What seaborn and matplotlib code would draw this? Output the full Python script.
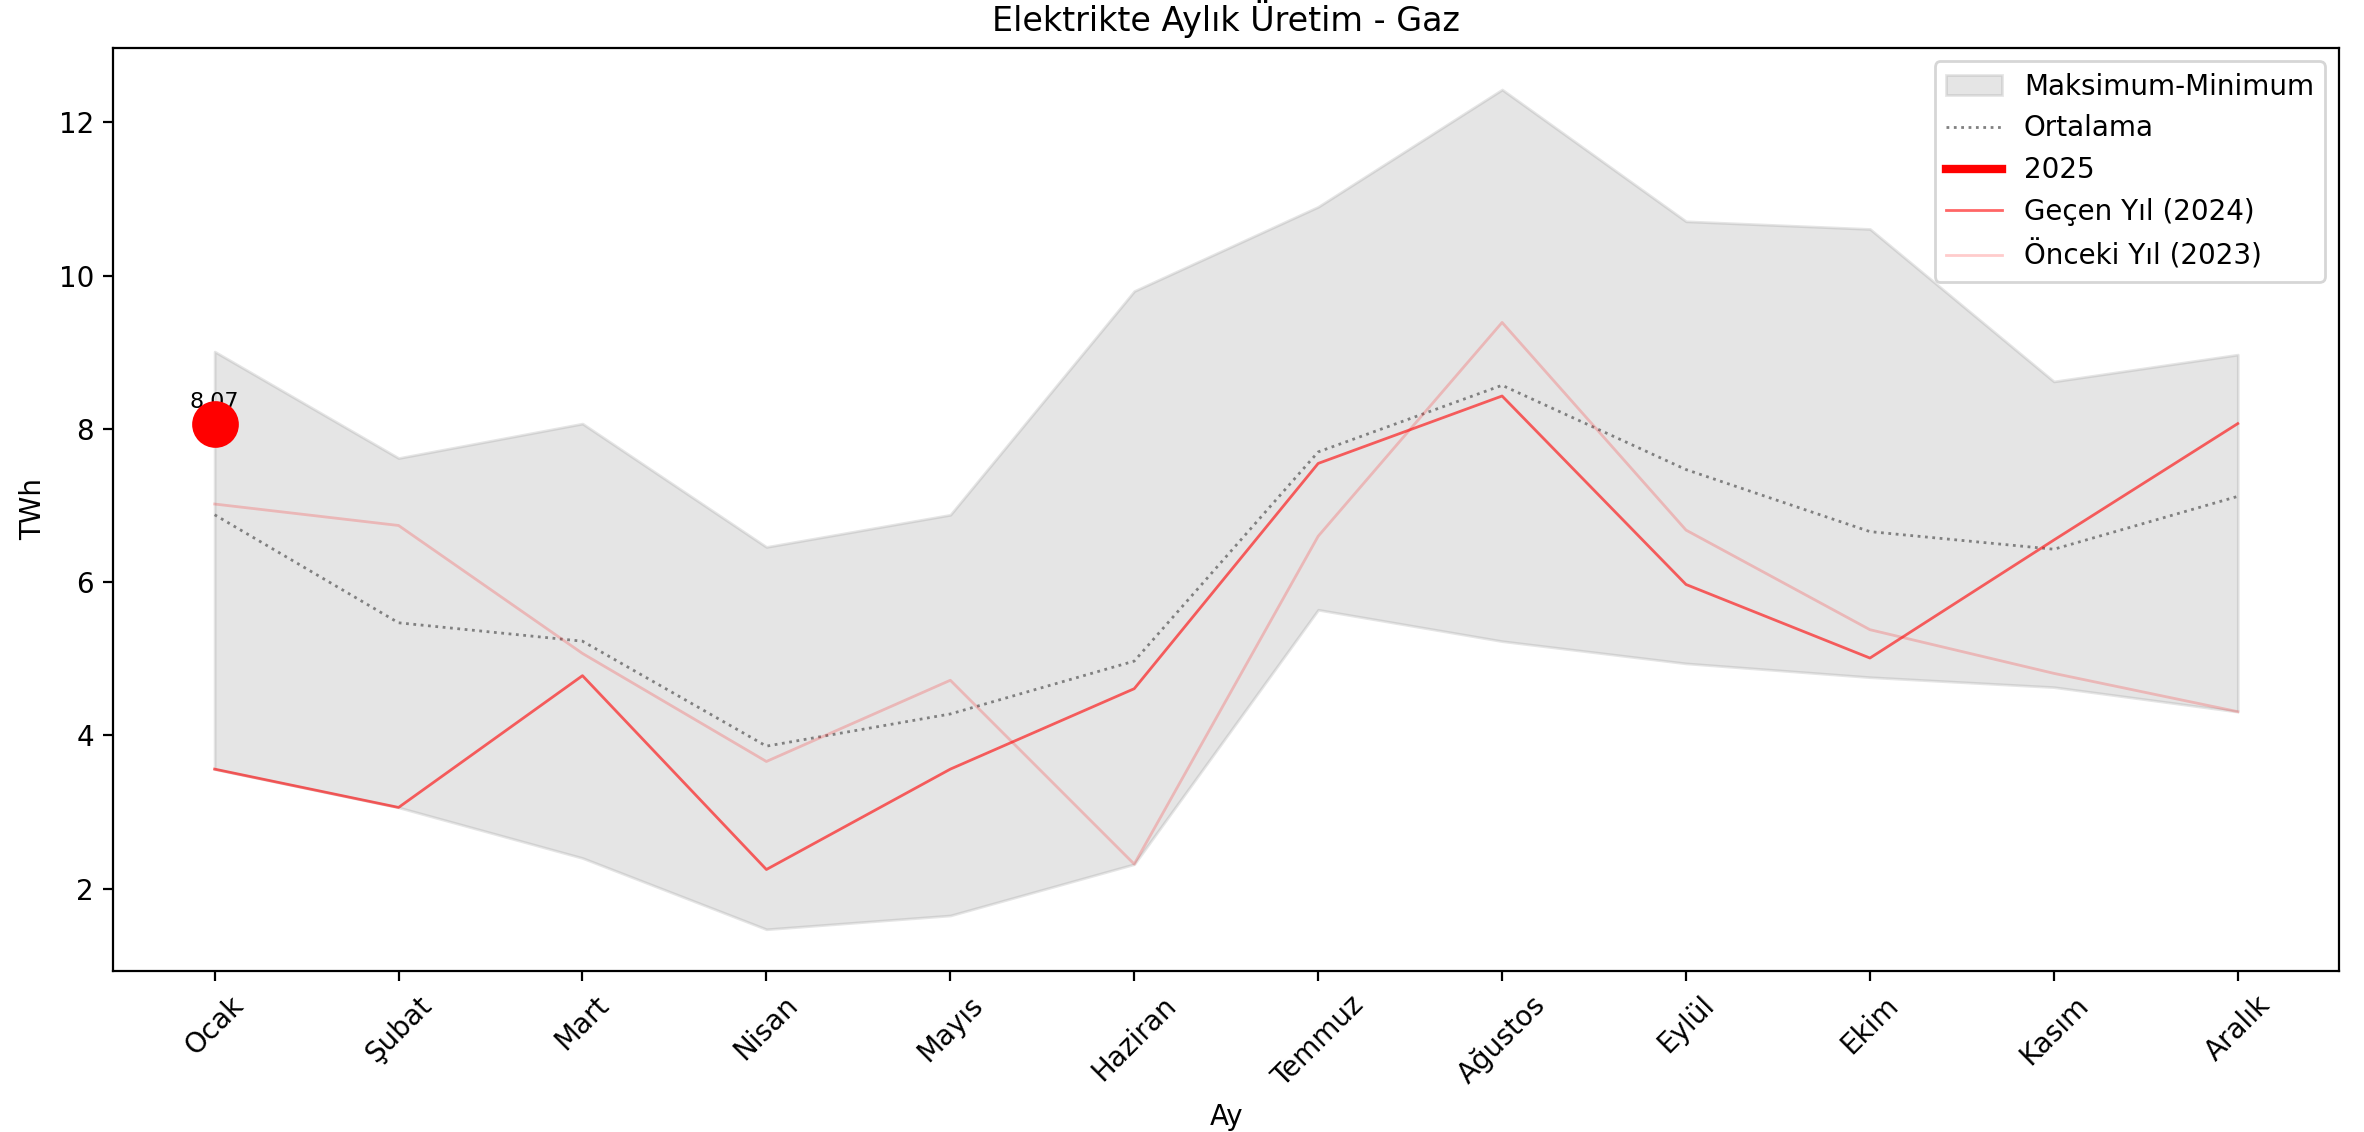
import matplotlib
matplotlib.use('Agg')
import matplotlib.pyplot as plt
import numpy as np
import pandas as pd
import seaborn as sns

months = ['Ocak', 'Şubat', 'Mart', 'Nisan', 'Mayıs', 'Haziran',
          'Temmuz', 'Ağustos', 'Eylül', 'Ekim', 'Kasım', 'Aralık']

# min / max band over the past years (TWh)
max_vals = [9.01, 7.62, 8.07, 6.46, 6.88, 9.80, 10.90, 12.43, 10.71, 10.61, 8.62, 8.97]
min_vals = [3.56, 3.06, 2.40, 1.47, 1.65, 2.32, 5.64, 5.23, 4.94, 4.76, 4.63, 4.31]
mean_vals = [6.88, 5.47, 5.23, 3.86, 4.28, 4.97, 7.70, 8.57, 7.47, 6.66, 6.43, 7.12]
y2024 = [3.56, 3.06, 4.78, 2.25, 3.56, 4.61, 7.55, 8.43, 5.97, 5.01, 6.55, 8.07]
y2023 = [7.02, 6.74, 5.07, 3.66, 4.72, 2.32, 6.60, 9.39, 6.68, 5.38, 4.81, 4.31]
y2025 = [8.07]

df = pd.DataFrame({'x': np.arange(len(months)), 'max': max_vals, 'min': min_vals,
                   'mean': mean_vals, '2024': y2024, '2023': y2023})
df25 = pd.DataFrame({'x': np.arange(len(y2025)), 'val': y2025})

fig, ax = plt.subplots(figsize=(11.82, 5.66), dpi=200)
fig.subplots_adjust(left=0.048, right=0.9894, top=0.958, bottom=0.142)

ax.fill_between(df['x'], df['min'], df['max'], color='gray', alpha=0.2, label='Maksimum-Minimum')
sns.lineplot(data=df, x='x', y='mean', ax=ax, color='gray', linestyle=':', linewidth=1, label='Ortalama')
sns.lineplot(data=df25, x='x', y='val', ax=ax, color='red', linewidth=3, label='2025')
ax.scatter(df25['x'], df25['val'], color='red', s=250, zorder=5)
for xi, v in zip(df25['x'], df25['val']):
    ax.text(xi, v + 0.15, f'{v:.2f}', ha='center', va='bottom', fontsize=8)
sns.lineplot(data=df, x='x', y='2024', ax=ax, color='red', alpha=0.6, linewidth=1, label='Geçen Yıl (2024)')
sns.lineplot(data=df, x='x', y='2023', ax=ax, color='red', alpha=0.2, linewidth=1, label='Önceki Yıl (2023)')

ax.set_xticks(df['x'])
ax.set_xticklabels(months, rotation=45)
ax.set_xlabel('Ay')
ax.set_ylabel('TWh')
ax.set_title('Elektrikte Aylık Üretim - Gaz')
ax.legend(loc='upper right')

fig.savefig('out.png', dpi=200)
